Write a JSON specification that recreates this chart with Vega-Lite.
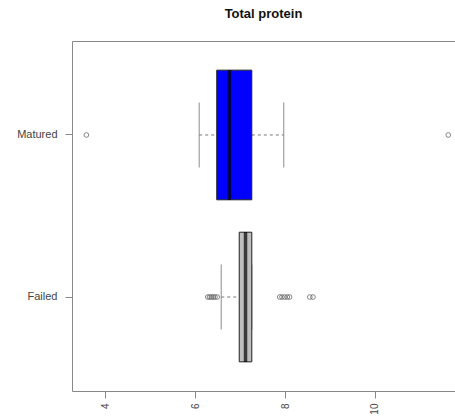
{
  "$schema": "https://vega.github.io/schema/vega-lite/v6.json",
  "width": 383,
  "height": 350,
  "autosize": {"type": "none"},
  "padding": {"left": 72, "top": 41, "right": 0, "bottom": 25},
  "title": {"text": "Total protein", "fontSize": 13, "fontWeight": "bold", "font": "Liberation Sans", "color": "#111", "offset": 20, "anchor": "middle"},
  "config": {
    "view": {"stroke": null},
    "axis": {"grid": false, "labelFont": "Liberation Sans", "labelColor": "#444", "labelFontSize": 9, "domainColor": "#888", "tickColor": "#888", "tickSize": 7}
  },
  "datasets": {
    "stats": [
      {"group": "Matured", "lower": 6.09, "q1": 6.48, "median": 6.76, "q3": 7.26, "upper": 7.97},
      {"group": "Failed", "lower": 6.58, "q1": 6.98, "median": 7.12, "q3": 7.26, "upper": 7.26}
    ],
    "outliers": [
      {"group": "Matured", "value": 3.58},
      {"group": "Matured", "value": 11.63},
      {"group": "Failed", "value": 6.28},
      {"group": "Failed", "value": 6.32},
      {"group": "Failed", "value": 6.36},
      {"group": "Failed", "value": 6.4},
      {"group": "Failed", "value": 6.44},
      {"group": "Failed", "value": 6.49},
      {"group": "Failed", "value": 7.88},
      {"group": "Failed", "value": 7.93},
      {"group": "Failed", "value": 7.99},
      {"group": "Failed", "value": 8.05},
      {"group": "Failed", "value": 8.1},
      {"group": "Failed", "value": 8.55},
      {"group": "Failed", "value": 8.62}
    ]
  },
  "resolve": {"axis": {"x": "independent"}},
  "encoding": {
    "y": {
      "field": "group", "type": "nominal", "sort": ["Matured", "Failed"],
      "scale": {"type": "band", "paddingInner": 0.2, "paddingOuter": 0.18},
      "axis": {"title": null, "labelPadding": 8, "tickSize": 7, "labelFontSize": 11, "domain": true}
    }
  },
  "layer": [
    {
      "data": {"name": "stats"},
      "mark": {"type": "rule", "color": "#777", "strokeDash": [3, 3], "strokeWidth": 1},
      "encoding": {
        "x": {"field": "lower", "type": "quantitative", "scale": {"domain": [3.26, 11.78], "nice": false, "zero": false},
          "axis": {"orient": "bottom", "values": [4, 6, 8, 10], "labelAngle": 270, "labelPadding": 5, "labelFontSize": 10, "title": null, "domain": true}},
        "x2": {"field": "q1"}
      }
    },
    {
      "data": {"name": "stats"},
      "mark": {"type": "rule", "color": "#777", "strokeDash": [3, 3], "strokeWidth": 1},
      "encoding": {
        "x": {"field": "q3", "type": "quantitative", "axis": null},
        "x2": {"field": "upper"}
      }
    },
    {
      "data": {"name": "stats"},
      "mark": {"type": "tick", "color": "#777", "size": 65, "thickness": 1.2},
      "encoding": {
        "x": {"field": "lower", "type": "quantitative", "axis": null}
      }
    },
    {
      "data": {"name": "stats"},
      "mark": {"type": "tick", "color": "#777", "size": 65, "thickness": 1.2},
      "encoding": {
        "x": {"field": "upper", "type": "quantitative", "axis": null}
      }
    },
    {
      "data": {"name": "stats"},
      "mark": {"type": "bar", "stroke": "#222", "strokeWidth": 1},
      "encoding": {
        "x": {"field": "q1", "type": "quantitative",
          "axis": {"orient": "top", "ticks": false, "labels": false, "domain": true, "title": null}},
        "x2": {"field": "q3"},
        "color": {"field": "group", "type": "nominal", "scale": {"domain": ["Matured", "Failed"], "range": ["#0000ff", "#bebebe"]}, "legend": null}
      }
    },
    {
      "data": {"name": "stats"},
      "mark": {"type": "tick", "color": "#000", "size": 130, "thickness": 3.5},
      "encoding": {
        "x": {"field": "median", "type": "quantitative", "axis": null}
      }
    },
    {
      "data": {"name": "outliers"},
      "mark": {"type": "point", "shape": "circle", "filled": false, "size": 22, "stroke": "#555", "strokeWidth": 1},
      "encoding": {
        "x": {"field": "value", "type": "quantitative", "axis": null}
      }
    }
  ]
}
